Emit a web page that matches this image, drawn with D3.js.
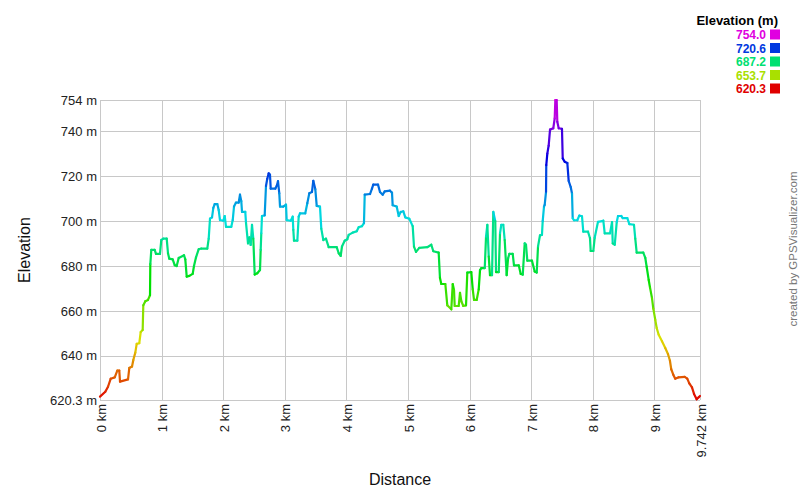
<!DOCTYPE html>
<html>
<head>
<meta charset="utf-8">
<script src="https://cdn.jsdelivr.net/npm/d3@7/dist/d3.min.js"></script>
<style>
  html, body { margin: 0; padding: 0; background: #fff; }
  svg { display: block; font-family: "Liberation Sans", Arial, sans-serif; }
</style>
</head>
<body>
<svg id="chart" width="800" height="500"></svg>
<script>
// ---- DATA ----
const distKm = [
  0.000,0.086,0.130,0.174,0.239,0.281,0.313,0.325,0.455,0.476,0.520,0.541,0.573,0.596,0.638,0.661,0.693,0.703,0.736,0.779,
  0.812,0.817,0.833,0.888,0.909,0.974,0.995,1.028,1.083,1.104,1.125,1.180,1.213,1.245,1.278,1.364,1.385,1.408,1.450,1.505,
  1.526,1.559,1.603,1.645,1.742,1.765,1.786,1.819,1.840,1.862,1.905,1.927,1.948,2.002,2.025,2.046,2.132,2.155,2.176,2.208,
  2.252,2.273,2.294,2.306,2.359,2.371,2.403,2.424,2.447,2.468,2.489,2.512,2.554,2.598,2.609,2.619,2.630,2.674,2.695,2.716,
  2.739,2.760,2.772,2.846,2.869,2.890,2.911,2.923,2.976,3.020,3.031,3.096,3.129,3.139,3.150,3.204,3.226,3.247,3.333,3.366,
  3.398,3.442,3.463,3.496,3.519,3.572,3.593,3.626,3.669,3.713,3.843,3.876,3.908,3.929,3.973,4.015,4.038,4.103,4.168,4.200,
  4.254,4.286,4.298,4.384,4.416,4.437,4.514,4.546,4.590,4.623,4.709,4.741,4.752,4.817,4.850,4.882,4.925,4.957,5.022,5.077,
  5.098,5.131,5.184,5.314,5.379,5.412,5.499,5.520,5.542,5.607,5.639,5.704,5.727,5.748,5.759,5.824,5.845,5.867,5.899,5.943,
  5.964,6.029,6.052,6.073,6.116,6.149,6.170,6.191,6.247,6.268,6.289,6.312,6.332,6.365,6.386,6.418,6.430,6.474,6.495,6.516,
  6.548,6.571,6.603,6.625,6.646,6.701,6.722,6.799,6.831,6.864,6.896,6.917,6.938,7.014,7.058,7.091,7.112,7.144,7.176,7.188,
  7.209,7.220,7.242,7.246,7.263,7.285,7.307,7.360,7.383,7.393,7.415,7.425,7.448,7.501,7.513,7.545,7.588,7.610,7.643,7.664,
  7.675,7.696,7.750,7.782,7.826,7.847,7.924,7.956,7.967,8.010,8.032,8.086,8.151,8.172,8.195,8.281,8.314,8.325,8.358,8.390,
  8.411,8.464,8.487,8.562,8.594,8.670,8.691,8.714,8.821,8.854,8.876,8.909,8.930,8.962,8.984,9.016,9.039,9.071,9.125,9.178,
  9.222,9.254,9.275,9.308,9.340,9.395,9.493,9.535,9.568,9.612,9.645,9.688,9.721,9.742
];
const elevM = [
  621.8,624.0,626.2,629.8,630.4,633.4,633.4,628.5,629.5,634.6,635.2,638.1,641.4,645.3,645.6,650.6,651.5,662.5,664.3,664.9,
  667.0,680.9,687.2,687.2,685.4,685.4,691.6,692.2,692.2,685.7,683.3,683.0,680.4,680.0,683.6,684.8,683.0,675.3,675.6,676.5,
  680.0,683.9,687.5,687.8,687.8,692.2,701.1,701.7,705.9,707.6,707.6,705.0,700.5,700.2,702.3,697.5,697.5,700.5,706.5,708.3,
  708.3,711.8,708.9,704.1,704.1,699.1,690.1,692.8,689.4,698.4,692.2,676.2,676.8,678.2,687.2,694.6,702.3,702.6,715.7,718.9,
  721.3,720.7,714.5,714.5,715.7,717.8,712.4,706.5,706.5,707.4,700.5,700.2,702.0,696.1,691.3,691.3,702.0,703.5,703.5,708.0,
  712.4,713.0,718.0,714.2,706.8,706.5,696.7,691.6,692.2,688.4,688.4,685.7,684.5,688.7,691.3,691.9,693.9,694.9,695.5,697.3,
  697.8,699.1,711.8,712.1,714.5,716.3,716.3,713.0,711.8,713.3,713.6,712.7,707.1,706.5,702.3,704.1,704.4,701.7,701.1,697.8,
  688.7,686.3,688.1,688.4,689.5,686.6,686.0,674.7,672.0,672.0,662.5,660.7,672.0,669.3,662.2,662.2,668.1,664.3,662.2,662.5,
  677.1,677.3,669.6,664.9,664.9,669.6,678.2,679.1,679.1,693.1,698.4,684.2,675.9,675.9,704.1,700.0,677.3,677.3,694.6,698.4,
  698.4,691.6,675.9,683.3,685.4,685.4,680.3,680.3,676.5,676.2,690.1,689.5,682.4,682.4,677.6,677.1,688.7,693.7,693.9,700.0,
  706.5,707.2,713.1,725.0,730.1,733.7,740.8,741.4,745.8,753.9,753.9,744.3,741.4,741.1,728.0,726.5,725.9,717.9,715.2,712.3,
  701.3,700.4,700.4,702.5,702.2,695.3,695.3,692.4,686.7,686.7,692.6,699.7,700.0,700.2,694.6,694.6,699.6,690.1,689.5,699.6,
  702.3,702.3,701.4,701.4,698.7,698.4,692.2,686.0,686.0,683.6,679.7,673.8,670.5,665.8,661.0,656.0,652.4,649.4,646.5,643.5,
  640.8,637.8,634.0,631.6,629.8,630.4,630.6,629.8,627.7,625.9,623.0,620.6,621.5,622.1
];
const yTickValues = [754, 740, 720, 700, 680, 660, 640, 620.3];
const yTickLabels = ["754 m", "740 m", "720 m", "700 m", "680 m", "660 m", "640 m", "620.3 m"];
const xTickValues = [0, 1, 2, 3, 4, 5, 6, 7, 8, 9, 9.742];
const xTickLabels = ["0 km", "1 km", "2 km", "3 km", "4 km", "5 km", "6 km", "7 km", "8 km", "9 km", "9.742 km"];
const legendValues = [754.0, 720.6, 687.2, 653.7, 620.3];
const legendLabels = ["754.0", "720.6", "687.2", "653.7", "620.3"];

// ---- CHART ----
(function () {
const svg = d3.select("#chart");
const pLeft = 100, pRight = 700, pTop = 100, pBottom = 400;
const minE = 620.3, maxE = 754;

const x = d3.scaleLinear().domain([0, 9.742]).range([pLeft, pRight]);
const y = d3.scaleLinear().domain([minE, maxE]).range([pBottom, pTop]);
const hue = d3.scaleLinear().domain([minE, maxE]).range([0, 300]);
const colorOf = v => d3.hsl(hue(v), 1, 0.44).formatHex();

// grid
const grid = svg.append("g");
grid.selectAll("line.h").data(yTickValues).join("line")
  .attr("x1", pLeft).attr("x2", pRight)
  .attr("y1", d => Math.round(y(d)) + 0.5).attr("y2", d => Math.round(y(d)) + 0.5)
  .attr("stroke", "#c8c8c8").attr("stroke-width", 1);
grid.selectAll("line.v").data(xTickValues).join("line")
  .attr("y1", pTop).attr("y2", pBottom)
  .attr("x1", d => Math.round(x(d)) + 0.5).attr("x2", d => Math.round(x(d)) + 0.5)
  .attr("stroke", "#c8c8c8").attr("stroke-width", 1);

// y tick labels
svg.append("g").selectAll("text").data(yTickValues).join("text")
  .attr("x", 97).attr("y", d => y(d)).attr("dy", "0.36em")
  .attr("text-anchor", "end").attr("font-size", 13).attr("fill", "#222")
  .text((d, i) => yTickLabels[i]);

// x tick labels
svg.append("g").selectAll("text").data(xTickValues).join("text")
  .attr("transform", d => `translate(${x(d) + 1},404) rotate(-90)`)
  .attr("dy", "0.36em")
  .attr("text-anchor", "end").attr("font-size", 13).attr("fill", "#222")
  .text((d, i) => xTickLabels[i]);

// axis titles
svg.append("text").attr("x", 400).attr("y", 485).attr("text-anchor", "middle")
  .attr("font-size", 16).attr("fill", "#111").text("Distance");
svg.append("text").attr("transform", "translate(30,250) rotate(-90)")
  .attr("text-anchor", "middle").attr("font-size", 16).attr("fill", "#111").text("Elevation");

// credit
svg.append("text").attr("transform", "translate(797,249) rotate(-90)")
  .attr("text-anchor", "middle").attr("font-size", 11.5).attr("fill", "#777")
  .text("created by GPSVisualizer.com");

// profile line, coloured by elevation
const pts = distKm.map((d, i) => [d, elevM[i]]);
const segs = d3.pairs(pts);
svg.append("g").selectAll("line").data(segs).join("line")
  .attr("x1", d => x(d[0][0])).attr("y1", d => y(d[0][1]))
  .attr("x2", d => x(d[1][0])).attr("y2", d => y(d[1][1]))
  .attr("stroke", d => colorOf((d[0][1] + d[1][1]) / 2))
  .attr("stroke-width", 2.2).attr("stroke-linecap", "round");

// legend
const lg = svg.append("g");
lg.append("text").attr("x", 778).attr("y", 25).attr("text-anchor", "end")
  .attr("font-size", 13).attr("font-weight", "bold").attr("fill", "#000").text("Elevation (m)");
const rows = lg.selectAll("g.row").data(legendValues).join("g")
  .attr("transform", (d, i) => `translate(0,${39 + i * 13.5})`);
rows.append("text").attr("x", 766).attr("y", 0).attr("text-anchor", "end")
  .attr("font-size", 12).attr("font-weight", "bold")
  .attr("fill", d => colorOf(d)).text((d, i) => legendLabels[i]);
rows.append("rect").attr("x", 770).attr("y", -9.5).attr("width", 10).attr("height", 10)
  .attr("fill", d => colorOf(d));
})();
</script>
</body>
</html>
